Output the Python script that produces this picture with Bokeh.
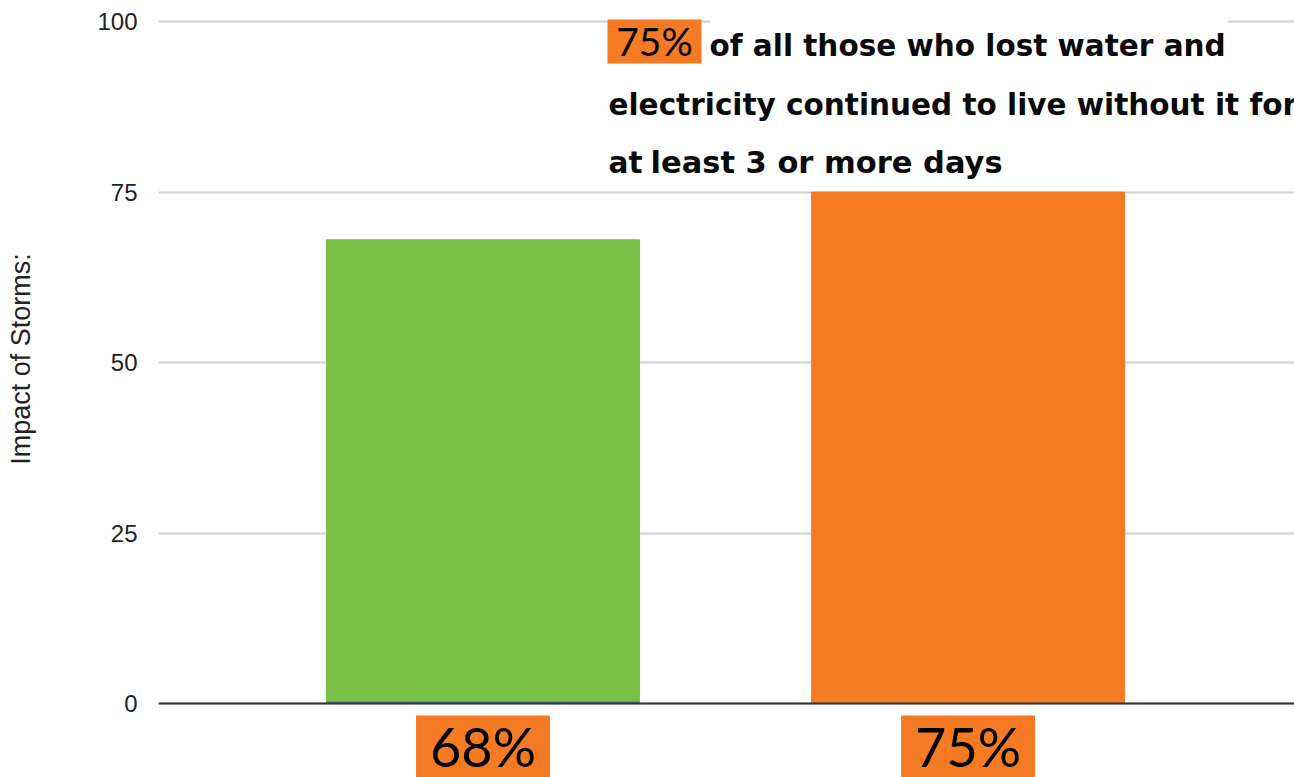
from bokeh.plotting import figure
from bokeh.layouts import column
from bokeh.models import ColumnDataSource, Range1d, FixedTicker, Label, BoxAnnotation, Span
from bokeh.embed import file_html
from bokeh.resources import INLINE

# ---- data ----
categories = ["Lost water and electricity", "Without it for 3 or more days"]
values = [68, 75]
base_values = [0.3, 0]          # thin blue base segment under the green bar
bar_colors = ["#78C046", "#F47A23"]
value_labels = ["68%", "75%"]
y_ticks = [0, 25, 50, 75, 100]
y_title = "Impact of Storms:"
note_pct = "75%"
note_line1 = "of all those who lost water and"
note_line2 = "electricity continued to live without it for"
note_line3a = "at"
note_line3b = "least 3 or more days"

ORANGE = "#F47A23"

# ---- layout helpers (main frame: left 158, bottom 715 in canvas px; value 0 at y=703) ----
FL, FB = 158, 715
def sx(cx):
    return cx - FL
def sy(cy):
    return FB - cy

xs = list(range(len(categories)))
src = ColumnDataSource(dict(x=xs, top=values, base=base_values, color=bar_colors,
                            label=value_labels, cat=categories))

xr = Range1d(-0.669, 1.673)
p = figure(width=1294, height=715, output_backend="svg", toolbar_location=None,
           x_range=xr, y_range=Range1d(-1.76, 102.79),
           min_border_left=158, min_border_right=0, min_border_top=2, min_border_bottom=0)
p.background_fill_color = "white"
p.border_fill_color = "white"
p.outline_line_color = None

p.vbar(x="x", top="top", bottom=0, width=0.645, fill_color="color", line_color="color", source=src)
p.vbar(x="x", top="base", bottom=0, width=0.645, fill_color="#4D79A8", line_color=None, source=src)

# axes
p.xaxis.visible = False
p.xgrid.visible = False
p.add_layout(Span(location=0, dimension="width", line_color="#333333", line_width=2))

p.yaxis.ticker = FixedTicker(ticks=y_ticks)
p.yaxis.axis_line_color = None
p.yaxis.major_tick_line_color = None
p.yaxis.minor_tick_line_color = None
p.yaxis.major_label_text_font = "Liberation Sans"
p.yaxis.major_label_text_font_size = "24px"
p.yaxis.major_label_text_color = "#222222"
p.yaxis.major_label_standoff = 15
p.yaxis.axis_label = y_title
p.yaxis.axis_label_text_font = "Liberation Sans"
p.yaxis.axis_label_text_font_size = "27px"
p.yaxis.axis_label_text_font_style = "normal"
p.yaxis.axis_label_text_color = "#222222"
p.yaxis.axis_label_standoff = 58
p.ygrid.grid_line_color = "#d0d0d0"
p.ygrid.grid_line_width = 2

# annotation text
p.add_layout(BoxAnnotation(left=sx(710), right=sx(1227), top=sy(17), bottom=sy(27),
                           left_units="screen", right_units="screen", top_units="screen", bottom_units="screen",
                           fill_color="white", fill_alpha=1, line_color=None))
p.add_layout(BoxAnnotation(left=sx(607), right=sx(701), top=sy(19), bottom=sy(63),
                           left_units="screen", right_units="screen", top_units="screen", bottom_units="screen",
                           fill_color=ORANGE, fill_alpha=1, line_color=None))
p.add_layout(Label(x=sx(654), y=sy(40), x_units="screen", y_units="screen", text=note_pct,
                   text_align="center", text_baseline="middle", text_font="Lato",
                   text_font_size="39px", text_color="black"))
common = dict(x_units="screen", y_units="screen", text_align="left", text_baseline="middle",
              text_font="DejaVu Sans", text_font_style="bold", text_font_size="29.5px", text_color="#0a0a0a")
p.add_layout(Label(x=sx(709), y=sy(45), text=note_line1, **common))
p.add_layout(Label(x=sx(608), y=sy(104), text=note_line2, **common))
p.add_layout(Label(x=sx(608), y=sy(162), text=note_line3a, **common))
common3 = dict(common, text_font_size="30.5px")
p.add_layout(Label(x=sx(650), y=sy(162), text=note_line3b, **common3))

# ---- strip under the bars holding the value labels ----
p2 = figure(width=1294, height=62, output_backend="svg", toolbar_location=None,
            x_range=xr, y_range=Range1d(0, 1),
            min_border_left=158, min_border_right=0, min_border_top=0, min_border_bottom=0)
p2.background_fill_color = "white"
p2.border_fill_color = "white"
p2.outline_line_color = None
p2.xaxis.visible = False
p2.yaxis.visible = False
p2.xgrid.visible = False
p2.ygrid.visible = False
for xi, lab in zip(xs, value_labels):
    p2.add_layout(Label(x=xi, y=31, y_units="screen", text=lab,
                        text_align="center", text_baseline="middle",
                        text_font="Lato", text_font_size="54px", text_color="black",
                        background_fill_color=ORANGE,
                        padding=dict(left=14, right=14, top=0, bottom=0)))

layout = column(p, p2, spacing=0)
open("out.html", "w").write(file_html(layout, INLINE))
